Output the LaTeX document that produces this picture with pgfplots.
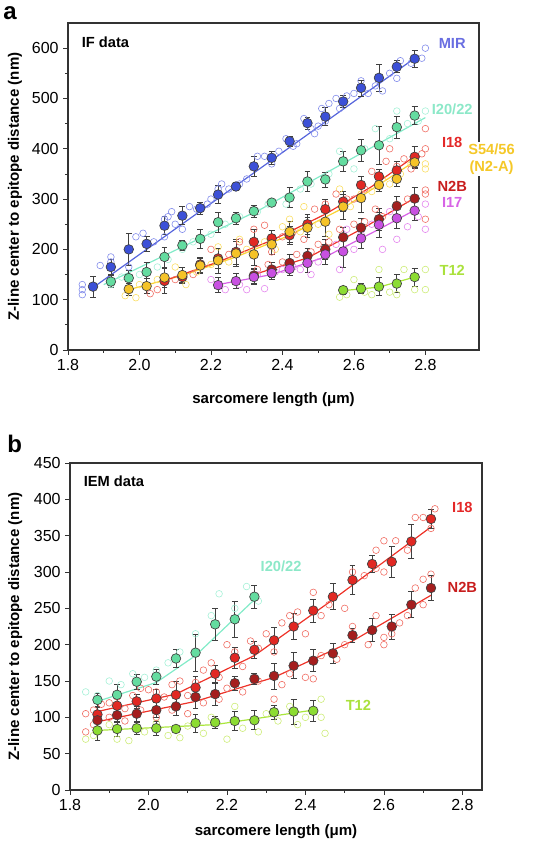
\documentclass[border=0pt]{standalone}
\usepackage{pgfplots}
\pgfplotsset{compat=1.18}
\usepackage{fontspec}
\setmainfont{Liberation Sans}
\definecolor{mirF}{RGB}{60,80,215}\definecolor{mirL}{RGB}{85,100,220}\definecolor{mirS}{RGB}{130,140,235}\definecolor{mirT}{RGB}{105,110,225}
\definecolor{i20F}{RGB}{100,220,160}\definecolor{i20L}{RGB}{130,235,200}\definecolor{i20S}{RGB}{165,240,215}\definecolor{i20T}{RGB}{140,232,200}
\definecolor{i18F}{RGB}{225,40,35}\definecolor{i18L}{RGB}{238,50,40}\definecolor{i18S}{RGB}{240,110,100}\definecolor{i18T}{RGB}{228,40,40}
\definecolor{yF}{RGB}{245,195,40}\definecolor{yL}{RGB}{250,210,50}\definecolor{yS}{RGB}{250,222,100}\definecolor{yT}{RGB}{245,200,40}
\definecolor{n2bF}{RGB}{165,30,30}\definecolor{n2bT}{RGB}{200,30,30}
\definecolor{i17F}{RGB}{200,80,225}\definecolor{i17L}{RGB}{215,95,230}\definecolor{i17S}{RGB}{228,135,238}\definecolor{i17T}{RGB}{215,100,230}
\definecolor{t12F}{RGB}{140,220,50}\definecolor{t12L}{RGB}{170,230,60}\definecolor{t12S}{RGB}{205,236,120}\definecolor{t12T}{RGB}{170,225,60}
\pgfplotsset{
  meanst/.style={only marks, mark=*, mark size=3.6pt,
    mark options={draw=black!75, line width=0.5pt, fill=#1},
    error bars/.cd, y dir=both, y explicit,
    error bar style={black!75, line width=0.5pt},
    error mark options={rotate=90, mark size=2.2pt, black!75, line width=0.5pt}},
  scst/.style={only marks, mark=o, mark size=2.5pt, mark options={draw=#1, line width=0.45pt}},
  fitst/.style={no marks, draw=#1, line width=0.9pt},
  panel/.style={scale only axis, clip=false, tick pos=left, tick align=outside,
    major tick length=3.5pt, minor tick length=2pt,
    axis line style={black!80, line width=0.8pt},
    every tick/.style={black!80, line width=0.6pt},
    minor x tick num=1,
    tick label style={font=\fontsize{12}{14}\selectfont},
    /pgf/number format/assume math mode=true,
    xticklabel style={/pgf/number format/.cd, fixed, fixed zerofill, precision=1},
    yticklabel style={/pgf/number format/.cd, fixed},
    label style={font=\fontsize{11.3}{13}\selectfont\bfseries},
    xlabel={sarcomere length (μm)},
    ylabel={Z-line center to epitope distance (nm)}}
}
\tikzset{lab/.style={font=\fontsize{11}{13}\selectfont\bfseries, anchor=center}}
\begin{document}
\begin{tikzpicture}
\useasboundingbox (0,0) rectangle (402pt,-639.75pt);
\node[font=\fontsize{18}{20}\selectfont\bfseries] at (7.5pt,-10pt) {a};
\node[font=\fontsize{18}{20}\selectfont\bfseries] at (11pt,-333pt) {b};
% ================= Panel a =================
\begin{axis}[panel, at={(51pt,-17.25pt)}, anchor=north west,
  width=308.25pt, height=245.25pt,
  xmin=1.8, xmax=2.95, ymin=0, ymax=650,
  xtick={1.8,2.0,2.2,2.4,2.6,2.8}, ytick={0,100,...,600}, minor y tick num=1,
  xlabel style={at={(axis description cs:0.5,-0.153)}, anchor=center},
  ylabel style={at={(axis description cs:-0.129,0.5)}, anchor=center}]
% scatter
\addplot[scst=mirS] coordinates {(1.84,110)(1.84,120)(1.84,130)(1.89,168)(1.92,175)(1.92,185)(1.97,165)(1.99,225)(2.01,232)(2.04,215)(2.07,225)(2.07,260)(2.08,265)(2.09,275)(2.10,250)(2.12,240)(2.14,285)(2.16,280)(2.19,290)(2.20,300)(2.22,320)(2.23,330)(2.25,320)(2.28,330)(2.30,340)(2.33,385)(2.35,385)(2.37,370)(2.39,395)(2.41,420)(2.43,405)(2.44,410)(2.46,460)(2.48,440)(2.49,430)(2.50,445)(2.51,480)(2.52,455)(2.53,490)(2.55,500)(2.56,480)(2.58,505)(2.60,510)(2.62,535)(2.64,510)(2.66,525)(2.68,515)(2.70,550)(2.72,540)(2.73,575)(2.76,570)(2.79,580)(2.80,600)};
\addplot[scst=i20S] coordinates {(1.92,130)(1.95,145)(2.00,150)(2.05,165)(2.08,180)(2.12,200)(2.15,215)(2.20,230)(2.24,250)(2.28,265)(2.33,275)(2.36,290)(2.41,290)(2.45,320)(2.48,330)(2.53,350)(2.56,395)(2.60,360)(2.63,400)(2.66,440)(2.70,420)(2.72,475)(2.75,450)(2.78,455)(2.80,475)};
\addplot[scst=yS] coordinates {(1.96,108)(1.99,104)(2.00,130)(2.05,140)(2.10,165)(2.13,130)(2.16,155)(2.20,170)(2.22,205)(2.25,175)(2.28,220)(2.30,200)(2.35,215)(2.38,200)(2.40,245)(2.42,260)(2.45,235)(2.46,285)(2.50,250)(2.53,230)(2.56,320)(2.59,285)(2.62,310)(2.65,315)(2.68,340)(2.70,330)(2.73,350)(2.76,370)(2.80,370)(2.80,360)};
\addplot[scst=i18S] coordinates {(2.03,112)(2.05,120)(2.10,140)(2.15,150)(2.20,200)(2.25,190)(2.28,215)(2.32,240)(2.35,248)(2.37,195)(2.40,225)(2.43,235)(2.46,220)(2.49,280)(2.52,290)(2.55,310)(2.58,300)(2.60,300)(2.63,320)(2.65,355)(2.67,345)(2.69,375)(2.70,400)(2.72,365)(2.74,380)(2.76,360)(2.80,440)(2.80,400)(2.80,318)(2.80,260)(2.79,390)
 (2.33,160)(2.36,170)(2.40,175)(2.44,190)(2.48,195)(2.50,210)(2.53,215)(2.56,240)(2.60,250)(2.63,255)(2.66,280)(2.68,265)(2.72,290)(2.75,300)(2.80,310)};
\addplot[scst=i17S] coordinates {(2.20,140)(2.24,120)(2.28,130)(2.30,120)(2.33,150)(2.35,122)(2.38,155)(2.40,160)(2.43,165)(2.45,160)(2.48,150)(2.50,175)(2.52,195)(2.55,210)(2.56,160)(2.58,240)(2.60,200)(2.62,230)(2.65,250)(2.68,200)(2.70,275)(2.72,220)(2.75,245)(2.78,265)(2.80,240)(2.80,290)};
\addplot[scst=t12S] coordinates {(2.56,105)(2.58,110)(2.60,140)(2.63,115)(2.65,110)(2.67,160)(2.70,115)(2.72,110)(2.74,160)(2.77,120)(2.80,160)(2.80,120)};
% fit lines
\addplot[fitst=mirL] coordinates {(1.87,124)(2.77,580)};
\addplot[fitst=i20L] coordinates {(1.90,130)(2.34,280)(2.80,462)};
\addplot[fitst=yL] coordinates {(1.97,120)(2.12,148)(2.27,185)(2.42,228)(2.57,282)(2.77,375)};
\addplot[fitst=i18L] coordinates {(2.07,138)(2.22,175)(2.37,218)(2.52,270)(2.65,325)(2.77,385)};
\addplot[fitst=i18L] coordinates {(2.32,150)(2.47,183)(2.62,240)(2.77,302)};
\addplot[fitst=i17L] coordinates {(2.22,130)(2.37,150)(2.52,185)(2.67,240)(2.77,278)};
\addplot[fitst=t12L] coordinates {(2.57,118)(2.67,125)(2.77,145)};
% means
\addplot[meanst=mirF] coordinates {(1.87,126)+-(0,21) (1.92,165)+-(0,15) (1.97,200)+-(0,32) (2.02,211)+-(0,15) (2.07,247)+-(0,18) (2.12,267)+-(0,18) (2.17,282)+-(0,12) (2.22,309)+-(0,18) (2.27,325)+-(0,8) (2.32,365)+-(0,20) (2.37,382)+-(0,12) (2.42,415)+-(0,10) (2.47,451)+-(0,12) (2.52,464)+-(0,18) (2.57,494)+-(0,12) (2.62,521)+-(0,16) (2.67,541)+-(0,27) (2.72,563)+-(0,12) (2.77,579)+-(0,17)};
\addplot[meanst=i20F] coordinates {(1.92,136)+-(0,12) (1.97,143)+-(0,15) (2.02,155)+-(0,20) (2.07,185)+-(0,20) (2.12,208)+-(0,10) (2.17,221)+-(0,18) (2.22,254)+-(0,20) (2.27,262)+-(0,12) (2.32,276)+-(0,12) (2.37,293)+-(0,5) (2.42,303)+-(0,20) (2.47,335)+-(0,20) (2.52,339)+-(0,15) (2.57,375)+-(0,20) (2.62,397)+-(0,22) (2.67,407)+-(0,38) (2.72,443)+-(0,22) (2.77,466)+-(0,18)};
\addplot[meanst=i18F] coordinates {(2.07,137)+-(0,25) (2.12,145)+-(0,12) (2.17,170)+-(0,15) (2.22,182)+-(0,20) (2.27,195)+-(0,25) (2.32,215)+-(0,25) (2.37,222)+-(0,15) (2.42,228)+-(0,18) (2.47,250)+-(0,20) (2.52,280)+-(0,20) (2.57,295)+-(0,20) (2.62,328)+-(0,18) (2.67,345)+-(0,15) (2.72,357)+-(0,18) (2.77,384)+-(0,20)};
\addplot[meanst=yF] coordinates {(1.97,121)+-(0,12) (2.02,127)+-(0,15) (2.07,144)+-(0,20) (2.12,149)+-(0,15) (2.17,168)+-(0,15) (2.22,178)+-(0,25) (2.27,192)+-(0,25) (2.32,190)+-(0,22) (2.37,210)+-(0,20) (2.42,235)+-(0,20) (2.47,243)+-(0,20) (2.52,255)+-(0,30) (2.57,285)+-(0,25) (2.62,302)+-(0,28) (2.67,328)+-(0,12) (2.72,340)+-(0,15) (2.77,373)+-(0,12)};
\addplot[meanst=n2bF] coordinates {(2.32,148)+-(0,15) (2.37,160)+-(0,15) (2.42,173)+-(0,18) (2.47,187)+-(0,15) (2.52,200)+-(0,20) (2.57,224)+-(0,20) (2.62,243)+-(0,18) (2.67,260)+-(0,22) (2.72,286)+-(0,20) (2.77,301)+-(0,22)};
\addplot[meanst=i17F] coordinates {(2.22,129)+-(0,15) (2.27,137)+-(0,15) (2.32,145)+-(0,15) (2.37,153)+-(0,12) (2.42,161)+-(0,12) (2.47,173)+-(0,18) (2.52,190)+-(0,20) (2.57,196)+-(0,32) (2.62,222)+-(0,20) (2.67,249)+-(0,25) (2.72,262)+-(0,20) (2.77,277)+-(0,20)};
\addplot[meanst=t12F] coordinates {(2.57,119)+-(0,8) (2.62,122)+-(0,10) (2.67,126)+-(0,18) (2.72,132)+-(0,18) (2.77,145)+-(0,18)};
% labels
\node[lab] at (axis cs:1.905,612) {IF data};
\node[lab, text=mirT] at (axis cs:2.875,610) {MIR};
\node[lab, text=i20T] at (axis cs:2.875,479) {I20/22};
\node[lab, text=i18T] at (axis cs:2.875,412) {I18};
\node[lab, text=yT, fill=white, inner sep=1pt, align=center] at (axis cs:2.985,379) {S54/56\\(N2-A)};
\node[lab, text=n2bT] at (axis cs:2.875,326) {N2B};
\node[lab, text=i17T] at (axis cs:2.875,294) {I17};
\node[lab, text=t12T] at (axis cs:2.875,159) {T12};
\end{axis}
% ================= Panel b =================
\begin{axis}[panel, at={(52.5pt,-347.25pt)}, anchor=north west,
  width=309pt, height=245.25pt,
  xmin=1.8, xmax=2.85, ymin=0, ymax=450,
  xtick={1.8,2.0,2.2,2.4,2.6,2.8}, ytick={0,50,...,450},
  xlabel style={at={(axis description cs:0.5,-0.128)}, anchor=center},
  ylabel style={at={(axis description cs:-0.133,0.5)}, anchor=center}]
\addplot[scst=i20S] coordinates {(1.84,135)(1.87,130)(1.90,150)(1.93,145)(1.96,160)(1.99,155)(2.02,165)(2.05,175)(2.08,190)(2.12,215)(2.16,240)(2.18,270)(2.22,250)(2.25,280)(2.28,260)};
\addplot[scst=t12S] coordinates {(1.84,70)(1.86,75)(1.90,90)(1.92,70)(1.95,68)(1.99,80)(2.02,92)(2.05,75)(2.08,72)(2.10,88)(2.14,78)(2.16,100)(2.20,70)(2.22,115)(2.24,85)(2.28,80)(2.30,105)(2.33,95)(2.36,115)(2.38,90)(2.40,100)(2.44,125)(2.45,78)(2.44,100)};
\addplot[scst=i18S] coordinates {(1.84,105)(1.86,110)(1.88,118)(1.90,120)(1.92,128)(1.94,112)(1.96,130)(1.98,140)(2.00,138)(2.02,135)(2.04,128)(2.06,145)(2.08,150)(2.10,130)(2.12,148)(2.14,165)(2.16,175)(2.18,155)(2.20,200)(2.22,190)(2.24,170)(2.26,205)(2.28,195)(2.30,215)(2.32,190)(2.34,230)(2.36,240)(2.38,245)(2.40,215)(2.42,272)(2.44,240)(2.46,255)(2.50,250)(2.52,300)(2.55,295)(2.58,330)(2.60,343)(2.63,343)(2.66,330)(2.68,375)(2.70,375)(2.72,360)(2.73,387)(2.60,300)(2.58,305)
 (1.84,80)(1.86,90)(1.90,100)(1.94,95)(1.98,110)(2.02,100)(2.06,110)(2.10,105)(2.14,120)(2.18,125)(2.20,140)(2.24,135)(2.28,150)(2.32,125)(2.34,145)(2.36,160)(2.40,155)(2.42,153)(2.44,185)(2.48,180)(2.50,200)(2.52,225)(2.56,200)(2.58,240)(2.60,200)(2.60,210)(2.62,215)(2.64,230)(2.66,240)(2.68,278)(2.70,255)(2.72,297)(2.70,290)};
\addplot[fitst=i20L] coordinates {(1.87,122)(2.02,148)(2.12,185)(2.27,262)};
\addplot[fitst=t12L] coordinates {(1.87,82)(2.17,90)(2.42,110)};
\addplot[fitst=i18L] coordinates {(1.87,108)(2.07,132)(2.27,185)(2.47,262)(2.72,362)};
\addplot[fitst=i18L] coordinates {(1.87,94)(2.12,122)(2.32,155)(2.52,205)(2.72,268)};
\addplot[meanst=i20F] coordinates {(1.87,124)+-(0,9) (1.92,131)+-(0,15) (1.97,149)+-(0,10) (2.02,156)+-(0,10) (2.07,181)+-(0,12) (2.12,189)+-(0,25) (2.17,228)+-(0,22) (2.22,235)+-(0,25) (2.27,266)+-(0,16)};
\addplot[meanst=t12F] coordinates {(1.87,82)+-(0,13) (1.92,84)+-(0,10) (1.97,85)+-(0,8) (2.02,85)+-(0,10) (2.07,84)+-(0,5) (2.12,92)+-(0,12) (2.17,93)+-(0,8) (2.22,95)+-(0,13) (2.27,96)+-(0,13) (2.32,107)+-(0,10) (2.37,108)+-(0,17) (2.42,109)+-(0,15)};
\addplot[meanst=i18F] coordinates {(1.87,104)+-(0,10) (1.92,116)+-(0,12) (1.97,122)+-(0,10) (2.02,126)+-(0,12) (2.07,131)+-(0,18) (2.12,141)+-(0,15) (2.17,160)+-(0,12) (2.22,182)+-(0,15) (2.27,193)+-(0,12) (2.32,206)+-(0,18) (2.37,225)+-(0,18) (2.42,247)+-(0,16) (2.47,266)+-(0,18) (2.52,289)+-(0,20) (2.57,311)+-(0,12) (2.62,314)+-(0,22) (2.67,342)+-(0,23) (2.72,373)+-(0,13)};
\addplot[meanst=n2bF] coordinates {(1.87,96)+-(0,10) (1.92,103)+-(0,10) (1.97,105)+-(0,10) (2.02,110)+-(0,10) (2.07,115)+-(0,12) (2.12,128)+-(0,15) (2.17,132)+-(0,15) (2.22,147)+-(0,10) (2.27,153)+-(0,8) (2.32,157)+-(0,18) (2.37,171)+-(0,18) (2.42,178)+-(0,15) (2.47,188)+-(0,14) (2.52,213)+-(0,10) (2.57,220)+-(0,16) (2.62,225)+-(0,17) (2.67,255)+-(0,18) (2.72,278)+-(0,17)};
\node[lab] at (axis cs:1.912,425) {IEM data};
\node[lab, text=i18T] at (axis cs:2.80,389) {I18};
\node[lab, text=n2bT] at (axis cs:2.80,279) {N2B};
\node[lab, text=i20T] at (axis cs:2.338,308) {I20/22};
\node[lab, text=t12T] at (axis cs:2.535,117) {T12};
\end{axis}
\end{tikzpicture}
\end{document}
